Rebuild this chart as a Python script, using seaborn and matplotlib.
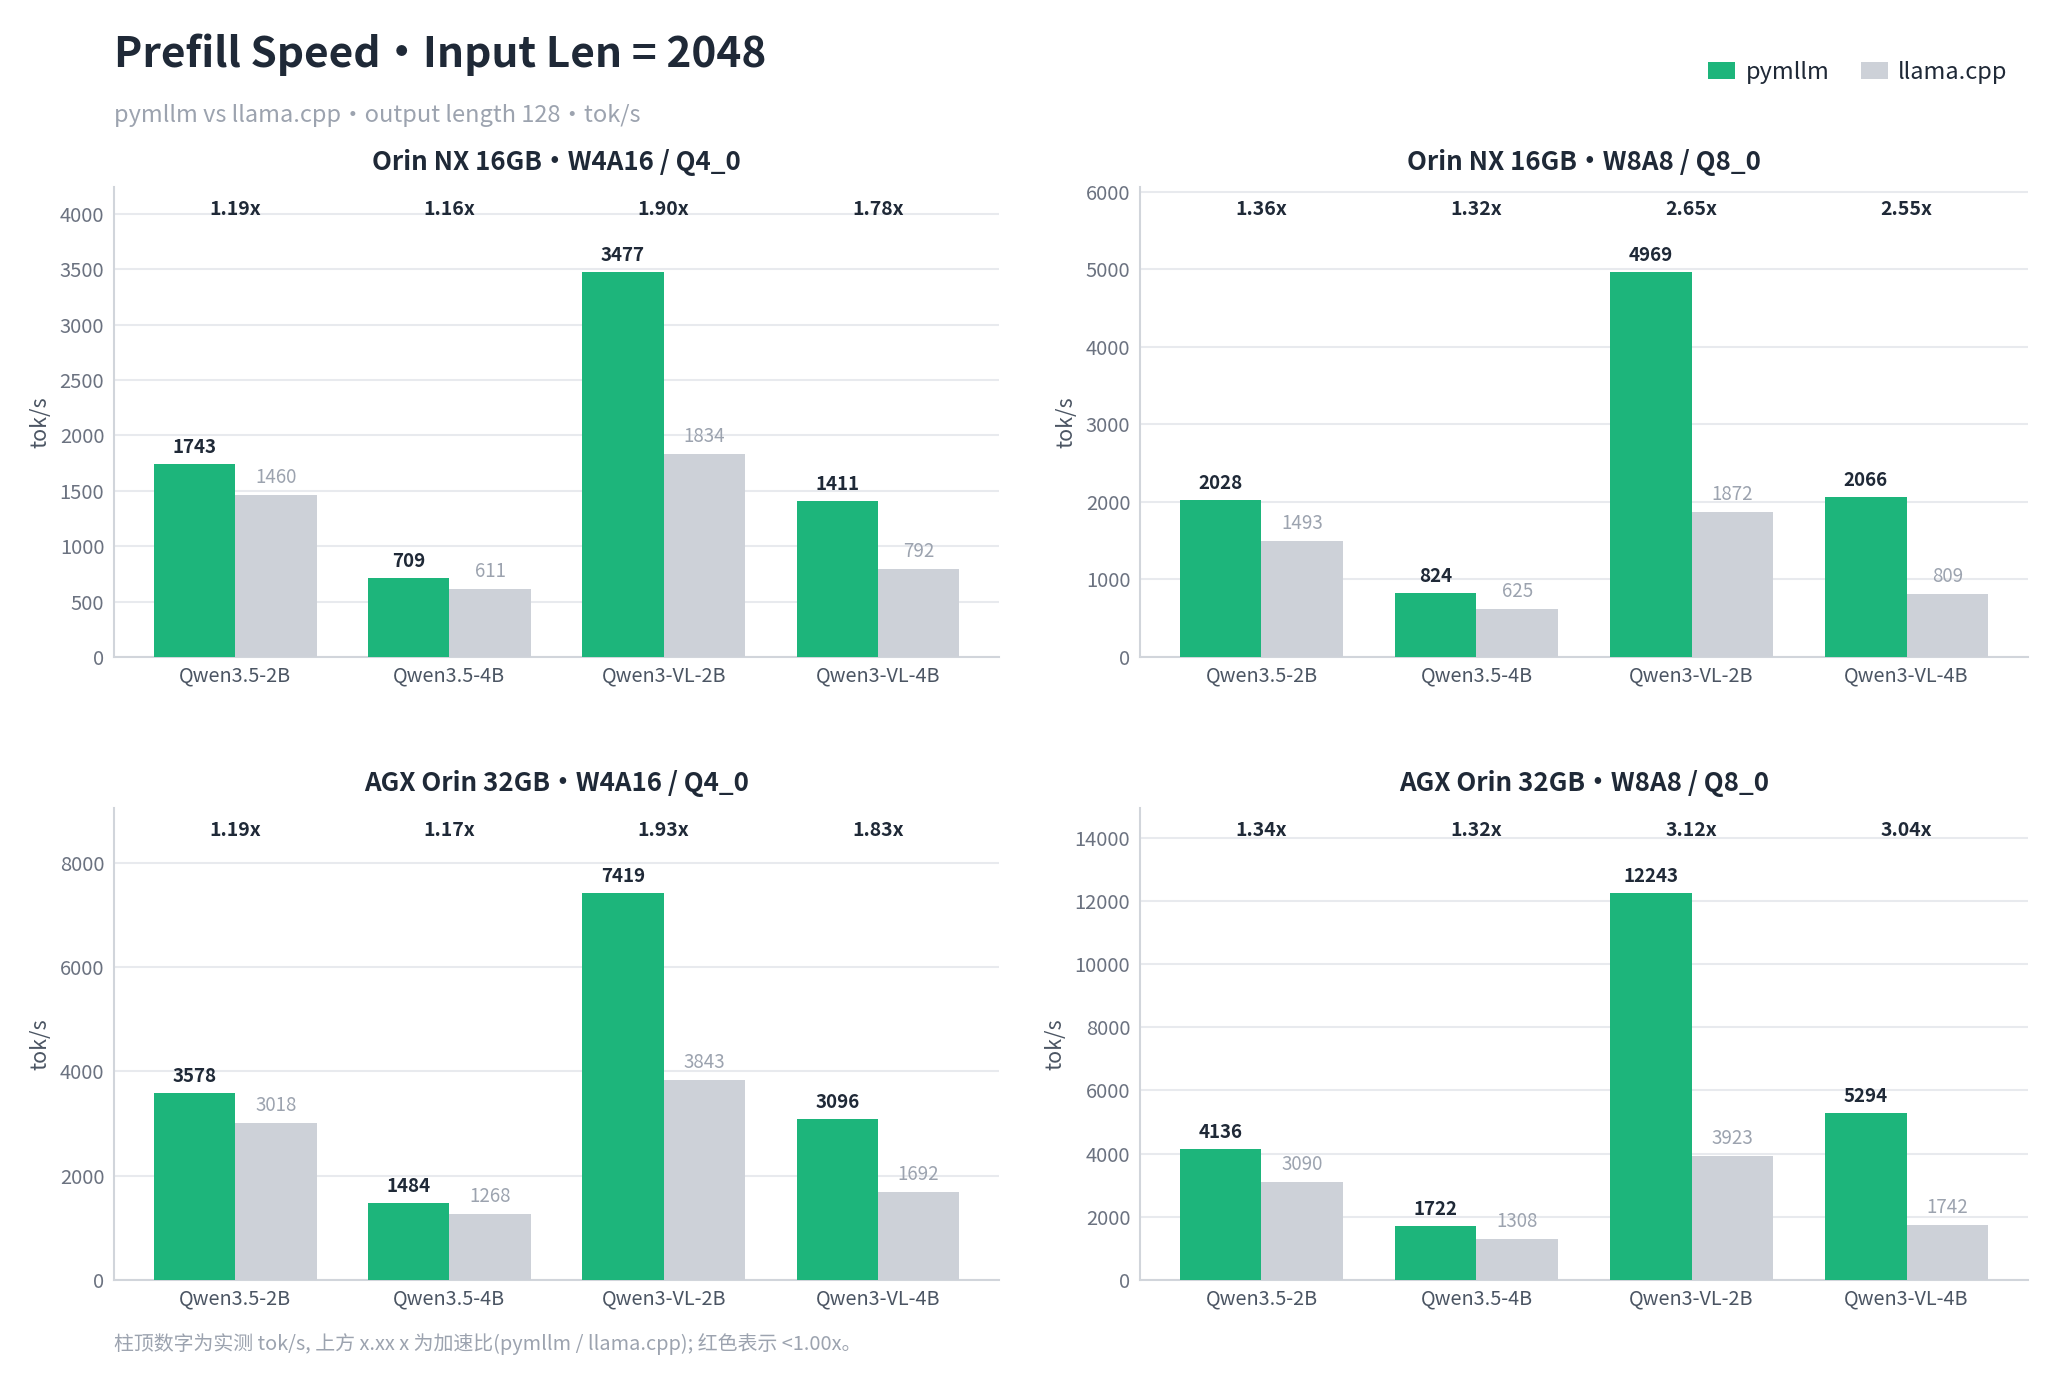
import numpy as np
import pandas as pd
import matplotlib
matplotlib.use("Agg")
import matplotlib.pyplot as plt
from matplotlib.patches import Patch
from matplotlib.ticker import MultipleLocator
import seaborn as sns

# ---------------- data ----------------
models = ["Qwen3.5-2B", "Qwen3.5-4B", "Qwen3-VL-2B", "Qwen3-VL-4B"]
engines = ["pymllm", "llama.cpp"]

titles = [
    "Orin NX 16GB・W4A16 / Q4_0",
    "Orin NX 16GB・W8A8 / Q8_0",
    "AGX Orin 32GB・W4A16 / Q4_0",
    "AGX Orin 32GB・W8A8 / Q8_0",
]
pymllm_nx_w4 = [1743, 709, 3477, 1411]
llama_nx_q4 = [1460, 611, 1834, 792]
pymllm_nx_w8 = [2028, 824, 4969, 2066]
llama_nx_q8 = [1493, 625, 1872, 809]
pymllm_agx_w4 = [3578, 1484, 7419, 3096]
llama_agx_q4 = [3018, 1268, 3843, 1692]
pymllm_agx_w8 = [4136, 1722, 12243, 5294]
llama_agx_q8 = [3090, 1308, 3923, 1742]

panels = [
    (pymllm_nx_w4, llama_nx_q4),
    (pymllm_nx_w8, llama_nx_q8),
    (pymllm_agx_w4, llama_agx_q4),
    (pymllm_agx_w8, llama_agx_q8),
]
ytick_steps = [500, 1000, 2000, 2000]

# ---------------- style ----------------
GREEN = "#1DB57B"
GRAY = "#CDD1D8"
DARK = "#1F2937"
MUTED = "#9CA3AF"
TICK = "#6B7280"
XTICK = "#4B5563"
SPINE = "#D1D5DB"
GRID = "#E8EAEE"
RED = "#DC2626"

sns.set_theme(style="white")
plt.rcParams["font.family"] = ["Noto Sans CJK SC", "DejaVu Sans"]

fig = plt.figure(figsize=(20.48, 13.76), dpi=100)

W, H = 2048, 1376
rects = [
    (114, 187, 999, 657),
    (1140, 187, 2028, 657),
    (114, 808, 999, 1280),
    (1140, 808, 2028, 1280),
]

for i, ((pv, lv), (l, t, r, b)) in enumerate(zip(panels, rects)):
    ax = fig.add_axes([l / W, 1 - b / H, (r - l) / W, (b - t) / H])
    df = pd.DataFrame({
        "model": models * 2,
        "engine": [engines[0]] * len(models) + [engines[1]] * len(models),
        "value": list(pv) + list(lv),
    })
    sns.barplot(data=df, x="model", y="value", hue="engine", order=models,
                hue_order=engines, palette=[GREEN, GRAY], width=0.76, gap=0,
                saturation=1, legend=False, ax=ax, zorder=3,
                linewidth=0, edgecolor="none")
    ymax = max(max(pv), max(lv)) * 1.22
    ax.set_ylim(0, ymax)
    ax.set_xlim(-0.565, len(models) - 1 + 0.565)
    ax.yaxis.set_major_locator(MultipleLocator(ytick_steps[i]))
    ax.grid(axis="y", color=GRID, linewidth=1.5, zorder=0)
    ax.set_axisbelow(True)
    for s in ["top", "right"]:
        ax.spines[s].set_visible(False)
    for s in ["left", "bottom"]:
        ax.spines[s].set_color(SPINE)
        ax.spines[s].set_linewidth(1.5)
    ax.tick_params(axis="y", length=0, pad=7, labelsize=14.5, labelcolor=TICK)
    ax.tick_params(axis="x", length=0, pad=6, labelsize=14.3, labelcolor=XTICK)
    ax.set_xlabel("")
    ax.set_ylabel("tok/s", fontsize=15.5, color=XTICK, labelpad=6)
    ax.set_title(titles[i], fontsize=18.7, fontweight="bold", color=DARK, pad=12)

    cont_p, cont_l = ax.containers[0], ax.containers[1]
    for bar in cont_p:
        ax.annotate(f"{bar.get_height():.0f}",
                    (bar.get_x() + bar.get_width() / 2, bar.get_height()),
                    xytext=(0, 5), textcoords="offset points", ha="center",
                    va="bottom", fontsize=13.5, fontweight="bold", color=DARK)
    for bar in cont_l:
        ax.annotate(f"{bar.get_height():.0f}",
                    (bar.get_x() + bar.get_width() / 2, bar.get_height()),
                    xytext=(0, 5), textcoords="offset points", ha="center",
                    va="bottom", fontsize=13.5, color=MUTED)
    for j, (a, c) in enumerate(zip(pv, lv)):
        sp = a / c
        ax.text(j, 0.953, f"{sp:.2f}x", transform=ax.get_xaxis_transform(),
                ha="center", va="center", fontsize=14, fontweight="bold",
                color=RED if sp < 1.0 else DARK)

fig.text(114 / W, 1 - 67 / H, "Prefill Speed・Input Len = 2048",
         fontsize=30.5, fontweight="bold", color=DARK, va="baseline", ha="left")
fig.text(114 / W, 1 - 122 / H, "pymllm vs llama.cpp・output length 128・tok/s",
         fontsize=17, color=MUTED, va="baseline", ha="left")
fig.text(114 / W, 1 - 1350 / H,
         "柱顶数字为实测 tok/s, 上方 x.xx x 为加速比(pymllm / llama.cpp); 红色表示 <1.00x。",
         fontsize=14.35, color=MUTED, va="baseline", ha="left")

handles = [Patch(facecolor=GREEN, edgecolor="none", label="pymllm"),
           Patch(facecolor=GRAY, edgecolor="none", label="llama.cpp")]
fig.legend(handles=handles, loc="center right", bbox_to_anchor=(2012 / W + 17 / W, 1 - 72 / H),
           ncol=2, frameon=False, fontsize=17, handlelength=1.14, handleheight=0.76,
           handletextpad=0.45, columnspacing=1.33, labelcolor=DARK)

fig.savefig("out.png", dpi=100)
